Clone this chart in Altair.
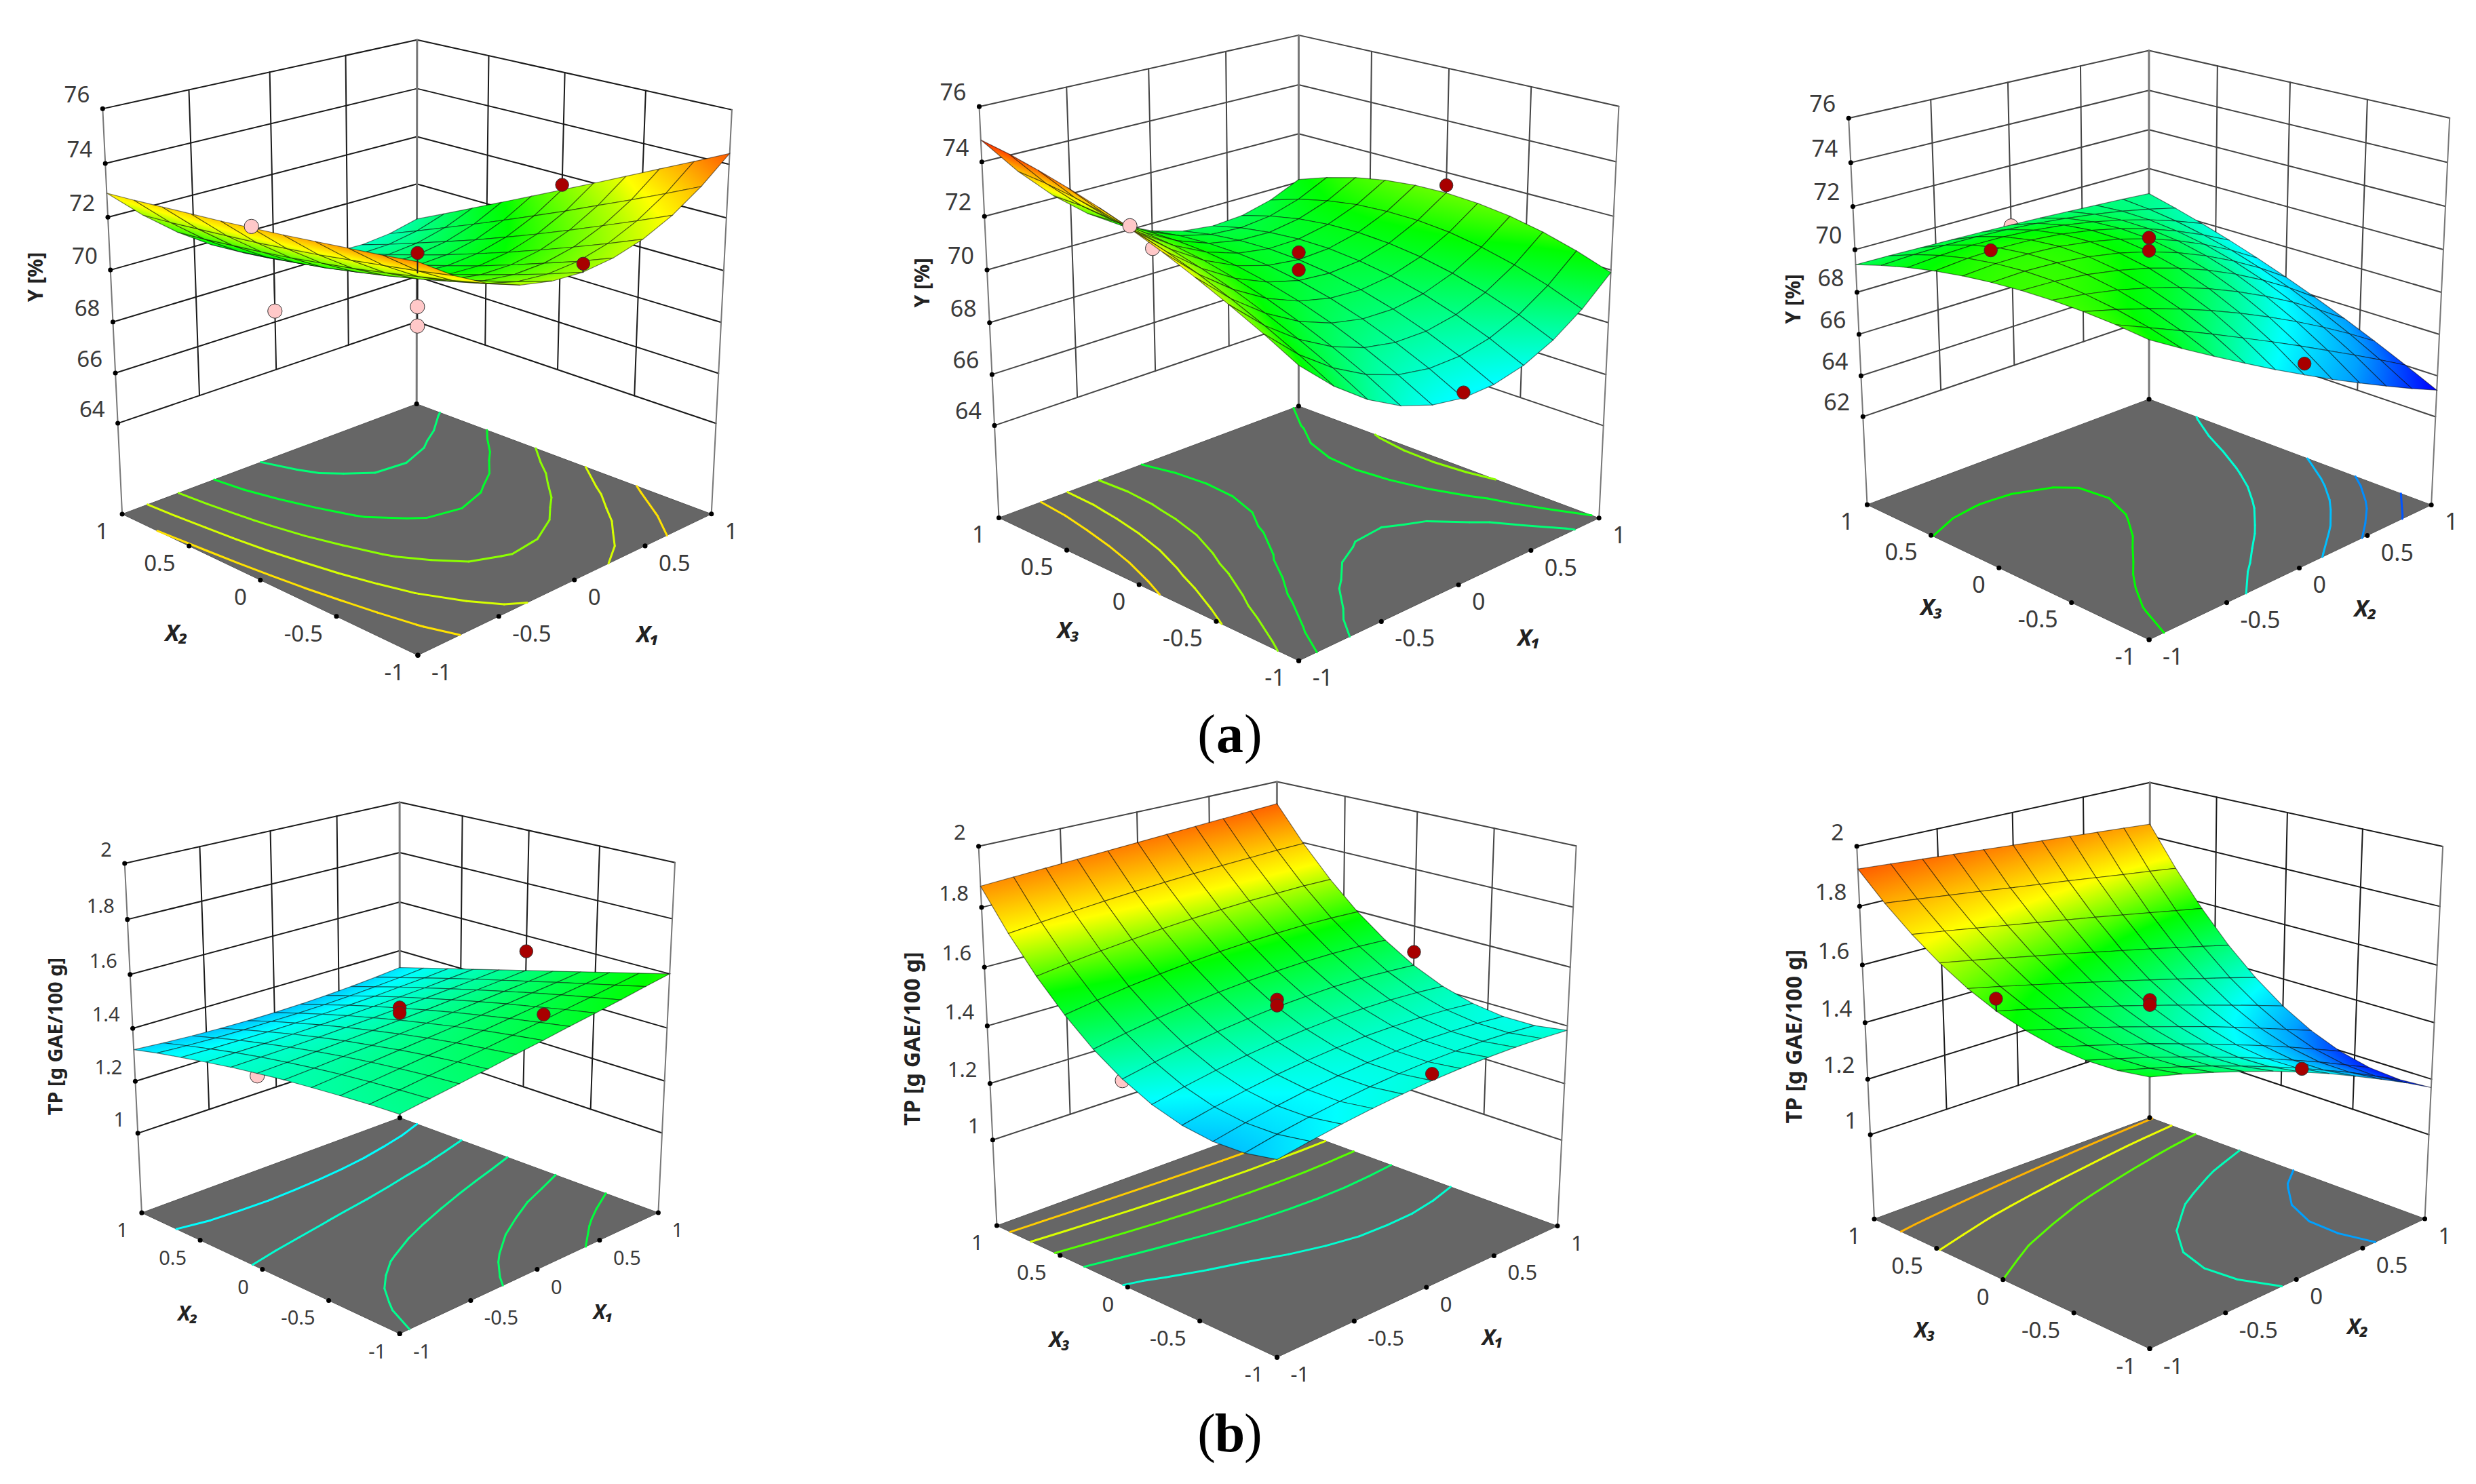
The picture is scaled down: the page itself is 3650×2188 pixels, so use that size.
import numpy as np
import altair as alt

alt.data_transformers.disable_max_rows()

# ---------- values: response z at X (columns, -1..1 by .2), Y (rows, -1..1 by .2) ----------
Y_X1_X2 = [
[74.0,73.18,72.54,72.10,71.86,71.8,71.94,72.26,72.78,73.50,74.4],
[73.85,72.96,72.26,71.77,71.46,71.36,71.45,71.74,72.23,72.91,73.79],
[73.72,72.77,72.02,71.47,71.11,70.96,71.01,71.25,71.70,72.34,73.19],
[73.59,72.59,71.78,71.18,70.78,70.58,70.58,70.78,71.18,71.79,72.59],
[73.46,72.41,71.56,70.92,70.47,70.22,70.17,70.33,70.68,71.23,71.99],
[73.35,72.26,71.38,70.69,70.19,69.9,69.81,69.91,70.20,70.70,71.4],
[73.24,72.12,71.20,70.47,69.94,69.6,69.45,69.50,69.74,70.18,70.81],
[73.15,72.01,71.06,70.30,69.73,69.34,69.14,69.13,69.31,69.67,70.23],
[73.06,71.91,70.94,70.14,69.53,69.1,68.85,68.78,68.89,69.18,69.65],
[72.97,71.81,70.82,70.00,69.36,68.88,68.58,68.44,68.48,68.69,69.07],
[72.9,71.74,70.74,69.90,69.22,68.7,68.34,68.14,68.10,68.22,68.5]]
Y_X1_X3 = [
[70.6,69.47,68.57,67.91,67.49,67.3,67.35,67.63,68.15,68.91,69.9],
[71.24,70.12,69.24,68.58,68.14,67.94,67.97,68.22,68.70,69.41,70.35],
[71.82,70.71,69.82,69.15,68.70,68.48,68.48,68.70,69.15,69.82,70.71],
[72.36,71.24,70.34,69.65,69.19,68.94,68.91,69.10,69.50,70.13,70.97],
[72.86,71.72,70.80,70.09,69.60,69.32,69.25,69.40,69.76,70.35,71.13],
[73.3,72.14,71.18,70.44,69.92,69.6,69.50,69.60,69.92,70.46,71.2],
[73.70,72.50,71.51,70.73,70.16,69.8,69.65,69.72,69.99,70.47,71.17],
[74.04,72.79,71.75,70.92,70.31,69.9,69.71,69.73,69.96,70.40,71.05],
[74.34,73.03,71.93,71.05,70.38,69.92,69.68,69.64,69.83,70.22,70.83],
[74.60,73.22,72.06,71.11,70.38,69.86,69.56,69.47,69.60,69.95,70.51],
[74.8,73.34,72.10,71.08,70.28,69.7,69.34,69.20,69.28,69.58,70.1]]
Y_X2_X3 = [
[70.6,69.74,68.92,68.12,67.34,66.6,65.88,65.20,64.54,63.90,63.3],
[70.74,70.14,69.53,68.90,68.25,67.59,66.91,66.21,65.50,64.77,64.02],
[70.82,70.44,70.01,69.53,69.00,68.41,67.77,67.08,66.34,65.55,64.70],
[70.84,70.64,70.37,70.01,69.58,69.07,68.48,67.81,67.07,66.24,65.34],
[70.80,70.75,70.60,70.35,70.01,69.57,69.04,68.41,67.68,66.86,65.94],
[70.7,70.75,70.69,70.53,70.27,69.9,69.43,68.85,68.17,67.39,66.5],
[70.54,70.65,70.66,70.57,70.37,70.07,69.67,69.16,68.55,67.84,67.02],
[70.32,70.46,70.50,70.45,70.31,70.07,69.74,69.32,68.80,68.19,67.50],
[70.04,70.16,70.21,70.18,70.08,69.91,69.66,69.34,68.95,68.48,67.94],
[69.70,69.77,69.79,69.77,69.70,69.59,69.43,69.23,68.98,68.68,68.34],
[69.3,69.28,69.24,69.20,69.16,69.1,69.04,68.96,68.88,68.80,68.7]]
TP_X1_X2 = [
[1.445,1.460,1.474,1.489,1.505,1.52,1.536,1.551,1.567,1.584,1.60],
[1.441,1.453,1.466,1.479,1.492,1.505,1.518,1.532,1.545,1.559,1.573],
[1.434,1.445,1.456,1.467,1.478,1.489,1.500,1.511,1.523,1.534,1.546],
[1.426,1.435,1.444,1.453,1.462,1.471,1.480,1.490,1.500,1.509,1.519],
[1.417,1.423,1.430,1.436,1.444,1.451,1.459,1.467,1.475,1.483,1.492],
[1.405,1.409,1.414,1.419,1.424,1.43,1.436,1.443,1.450,1.457,1.465],
[1.392,1.394,1.396,1.399,1.403,1.407,1.412,1.418,1.424,1.431,1.438],
[1.376,1.376,1.376,1.378,1.380,1.383,1.387,1.392,1.397,1.404,1.411],
[1.359,1.356,1.355,1.354,1.355,1.357,1.360,1.364,1.370,1.376,1.384],
[1.341,1.335,1.331,1.329,1.329,1.329,1.331,1.335,1.341,1.348,1.357],
[1.32,1.312,1.306,1.302,1.300,1.30,1.302,1.306,1.312,1.320,1.33]]
TP_X1_X3 = [
[1.32,1.338,1.354,1.367,1.377,1.385,1.390,1.393,1.393,1.390,1.385],
[1.301,1.322,1.339,1.353,1.365,1.373,1.378,1.380,1.380,1.376,1.369],
[1.299,1.321,1.339,1.355,1.366,1.375,1.380,1.383,1.381,1.377,1.369],
[1.313,1.335,1.354,1.370,1.382,1.391,1.397,1.398,1.397,1.392,1.384],
[1.343,1.365,1.384,1.400,1.412,1.421,1.427,1.428,1.427,1.422,1.414],
[1.39,1.411,1.430,1.445,1.456,1.465,1.470,1.473,1.472,1.467,1.46],
[1.453,1.473,1.490,1.504,1.515,1.523,1.528,1.531,1.531,1.528,1.522],
[1.533,1.550,1.565,1.577,1.587,1.595,1.600,1.603,1.604,1.602,1.598],
[1.629,1.643,1.655,1.665,1.674,1.681,1.686,1.690,1.691,1.692,1.690],
[1.741,1.751,1.760,1.768,1.775,1.781,1.786,1.790,1.793,1.796,1.797],
[1.87,1.875,1.88,1.885,1.89,1.895,1.90,1.905,1.91,1.915,1.92]]
TP_X2_X3 = [
[1.56,1.534,1.504,1.472,1.438,1.40,1.360,1.316,1.270,1.222,1.17],
[1.545,1.517,1.487,1.455,1.420,1.383,1.344,1.302,1.259,1.211,1.163],
[1.542,1.513,1.483,1.450,1.416,1.38,1.342,1.302,1.261,1.217,1.172],
[1.55,1.521,1.491,1.460,1.426,1.392,1.356,1.319,1.280,1.239,1.198],
[1.57,1.542,1.513,1.483,1.451,1.419,1.386,1.351,1.315,1.278,1.241],
[1.6,1.574,1.546,1.518,1.490,1.46,1.430,1.398,1.366,1.334,1.30],
[1.642,1.618,1.593,1.567,1.541,1.515,1.488,1.461,1.433,1.405,1.376],
[1.696,1.675,1.653,1.631,1.609,1.586,1.563,1.540,1.516,1.492,1.468],
[1.761,1.744,1.726,1.708,1.690,1.672,1.654,1.635,1.616,1.597,1.578],
[1.837,1.824,1.811,1.798,1.784,1.771,1.758,1.744,1.730,1.717,1.703],
[1.925,1.917,1.909,1.901,1.893,1.885,1.877,1.869,1.861,1.853,1.845]]

# design points: factor on right axis, factor on left axis, response, kind
R, P = "#a80000", "#ffc8c8"
PTS_1 = [(-1,0,73.4,P),(0,1,66.45,P),(0,-1,72.1,R),(1,0,71.6,R),(0,0,70.66,R),(0,0,68.6,P),(0,0,67.85,P)]
PTS_2 = [(-1,0,73.4,P),(0,1,69.0,P),(0,0,70.66,R),(0,0,70.0,R),(1,0,71.5,R),(0,-1,67.5,R)]
PTS_3 = [(-1,0,72.1,R),(0,1,69.05,P),(0,0,70.56,R),(0,0,69.95,R),(0,-1,67.1,R)]
PTS_4 = [(-1,0,1.396,P),(1,0,1.54,R),(0,-1,1.61,R),(0,0,1.477,R),(0,0,1.457,R)]
PTS_5 = [(-1,0,1.385,P),(1,0,1.508,R),(0,-1,1.407,R),(0,0,1.49,R),(0,0,1.47,R)]
PTS_6 = [(-1,0,1.64,R),(0,0,1.479,R),(0,0,1.462,R),(0,-1,1.411,R)]

Y_TICKS = [64, 66, 68, 70, 72, 74, 76]
Y_TICKS_3 = [62, 64, 66, 68, 70, 72, 74, 76]
TP_TICKS = [1, 1.2, 1.4, 1.6, 1.8, 2]
FACTOR_TICKS = [-1, -0.5, 0, 0.5, 1]

Y_STOPS = [63.3, 65.4, 67.4, 68.8, 70.2, 72.7, 74, 75.3]
TP_STOPS = [1.15, 1.27, 1.35, 1.46, 1.58, 1.74, 1.89, 2.02]
RAMP = ["#0000ff", "#00a0ff", "#00ffff", "#00ff80", "#00ff00", "#ffff00", "#ff8000", "#ff0000"]
GRID = np.linspace(-1, 1, 11)

# ---------- layout: camera anchors read in crop coordinates ----------
PANELS = [
 dict(t=Y_X1_X2, pts=PTS_1, ticks=Y_TICKS, stops=Y_STOPS, zf=60.3, zt=76, lev=[69,70,71,72,73], stem=True,
      view=(0,0,1568/1200,1568/1080), wall="#1a1a1a", fs=33, tfs=30, xfs=34, title="Y [%]", tpos=(70,593),
      lf=("X₂",(340,1358)), rg=("X₁",(1248,1360)),
      a=dict(F=(805,1403),Rt=(1370,1100),L=(235,1100),B=(803,865),LT=(198,233),BT=(803,85),RT=(1410,235))),
 dict(t=Y_X1_X3, pts=PTS_2, ticks=Y_TICKS, stops=Y_STOPS, zf=60.3, zt=76, lev=[69,70,71,72,73], stem=False,
      view=(1250,0,1568/1200,1568/1080), wall="#444444", fs=34, tfs=30, xfs=34, title="Y [%]", tpos=(145,605),
      lf=("X₃",(425,1352)), rg=("X₁",(1312,1368)),
      a=dict(F=(868,1415),Rt=(1447,1108),L=(291,1108),B=(868,870),LT=(253,228),BT=(868,75),RT=(1485,228))),
 dict(t=Y_X2_X3, pts=PTS_3, ticks=Y_TICKS_3, stops=Y_STOPS, zf=57.6, zt=76, lev=[64,65,66,68,70.2], stem=False,
      view=(2600,0,1568/1050,1568/1080), wall="#444444", fs=34, tfs=30, xfs=34, title="Y [%]", tpos=(67,640),
      lf=("X₃",(370,1303)), rg=("X₂",(1325,1305)),
      a=dict(F=(848,1370),Rt=(1470,1080),L=(228,1080),B=(848,855),LT=(187,253),BT=(848,108),RT=(1510,253))),
 dict(t=TP_X1_X2, pts=PTS_4, ticks=TP_TICKS, stops=TP_STOPS, zf=0.686, zt=2, lev=[1.35,1.4,1.45,1.5,1.55], stem=False,
      view=(0,1130,1568/1200,1568/1058), wall="#1a1a1a", fs=29, tfs=29, xfs=30, title="TP [g GAE/100 g]", tpos=(108,590),
      lf=("X₂",(362,1198)), rg=("X₁",(1162,1195)),
      a=dict(F=(770,1240),Rt=(1268,975),L=(273,975),B=(770,768),LT=(240,212),BT=(770,78),RT=(1300,210))),
 dict(t=TP_X1_X3, pts=PTS_5, ticks=TP_TICKS, stops=TP_STOPS, zf=0.689, zt=2, lev=[1.4,1.5,1.6,1.7,1.8], stem=False,
      view=(1250,1100,1568/1200,1568/1088), wall="#444444", fs=31, tfs=32, xfs=32, title="TP [g GAE/100 g]", tpos=(125,622),
      lf=("X₃",(408,1262)), rg=("X₁",(1242,1258)),
      a=dict(F=(826,1300),Rt=(1367,1018),L=(287,1018),B=(826,803),LT=(252,213),BT=(826,75),RT=(1403,213))),
 dict(t=TP_X2_X3, pts=PTS_6, ticks=TP_TICKS, stops=TP_STOPS, zf=0.689, zt=2, lev=[1.27,1.42,1.6,1.72,1.83], stem=True,
      view=(2600,1130,1568/1050,1568/1058), wall="#1a1a1a", fs=33, tfs=32, xfs=32, title="TP [g GAE/100 g]", tpos=(68,590),
      lf=("X₃",(355,1233)), rg=("X₂",(1308,1225)),
      a=dict(F=(850,1273),Rt=(1455,988),L=(243,988),B=(850,768),LT=(205,175),BT=(850,35),RT=(1495,175))),
]

RGB = [tuple(int(h[i:i+2], 16) for i in (1, 3, 5)) for h in RAMP]
def ramp_hex(c):
    c = min(max(c, 0.0), len(RAMP) - 1.0)
    i = min(int(c), len(RAMP) - 2)
    f = c - i
    return "#%02x%02x%02x" % tuple(int(round(RGB[i][k] + f*(RGB[i+1][k]-RGB[i][k]))) for k in range(3))

def cell_fill(xy, cs):
    """Shade one mesh cell from its own four corners with a linear gradient in its bounding box."""
    xy, cs = np.array(xy, float), np.array(cs, float)
    lo, hi = xy.min(axis=0), xy.max(axis=0)
    span = np.maximum(hi - lo, 1e-6)
    n = (xy - lo) / span
    A = np.c_[n, np.ones(4)]
    gu, gv, _ = np.linalg.lstsq(A, cs, rcond=None)[0]
    g = float(np.hypot(gu, gv))
    cc, cmin, cmax = cs.mean(), cs.min(), cs.max()
    if g < 1e-4 or cmax - cmin < 1e-4:
        return ramp_hex(cc)
    d = np.array([gu, gv]) / g
    m = n.mean(axis=0)
    p0, p1 = m + d*(cmin-cc)/g, m + d*(cmax-cc)/g
    stops = [dict(offset=0, color=ramp_hex(cmin))]
    for s in range(int(np.ceil(cmin)), int(np.floor(cmax))+1):
        if cmin < s < cmax:
            stops.append(dict(offset=float((s-cmin)/(cmax-cmin)), color=ramp_hex(s)))
    stops.append(dict(offset=1, color=ramp_hex(cmax)))
    x2 = float(p1[0]) or 0.0001
    return dict(gradient="linear", x1=float(p0[0]), y1=float(p0[1]), x2=x2, y2=float(p1[1]), stops=stops)

def camera(p):
    ox, oy, fx, fy = p["view"]
    world = dict(F=(-1,-1,0),Rt=(1,-1,0),L=(-1,1,0),B=(1,1,0),LT=(-1,1,1),BT=(1,1,1),RT=(1,-1,1))
    A, b = [], []
    for k, (zx, zy) in p["a"].items():
        u, v = ox + zx/fx, oy + zy/fy
        X, Y, T = world[k]
        A.append([X,Y,T,1,0,0,0,0,-u*X,-u*Y,-u*T]); b.append(u)
        A.append([0,0,0,0,X,Y,T,1,-v*X,-v*Y,-v*T]); b.append(v)
    s = np.linalg.lstsq(np.array(A,float), np.array(b,float), rcond=None)[0]
    return np.append(s, 1.0).reshape(3,4)

rules, contours, geo_cells, floors, dots, pts_back, pts_front, stems_back, stems_front = [], [], [], [], [], [], [], [], []
txt_r, txt_l, txt_c, txt_rot = [], [], [], []

for p in PANELS:
    C = camera(p)
    zf, zt = p["zf"], p["zt"]
    ox, oy, fx, fy = p["view"]
    def proj(X, Y, z):
        h = C @ np.array([X, Y, (z-zf)/(zt-zf), 1.0])
        return float(h[0]/h[2]), float(h[1]/h[2])
    def seg(a, b, col, sw):
        (x, y), (x2, y2) = proj(*a), proj(*b)
        rules.append(dict(x=x, y=y, x2=x2, y2=y2, col=col, sw=sw))
    colr = lambda z: float(np.interp(z, p["stops"], range(len(RAMP))))
    T = np.array(p["t"], float)
    w = p["wall"]
    lo = p["ticks"][0]
    # floor
    floors.append(dict(type="Feature", properties={}, geometry=dict(type="Polygon", coordinates=[[
        [proj(a,b,zf)[0]-8, proj(a,b,zf)[1]-8] for a,b in [(-1,-1),(1,-1),(1,1),(-1,1),(-1,-1)]]])))
    for lev0 in p["lev"]:
        lev = lev0 + 1.3e-5
        for j in range(10):
            for i in range(10):
                v = [(GRID[i],GRID[j],T[j,i]),(GRID[i+1],GRID[j],T[j,i+1]),(GRID[i+1],GRID[j+1],T[j+1,i+1]),(GRID[i],GRID[j+1],T[j+1,i])]
                cross = []
                for k in range(4):
                    a, b = v[k], v[(k+1)%4]
                    if (a[2]-lev)*(b[2]-lev) < 0:
                        f = (lev-a[2])/(b[2]-a[2])
                        cross.append((a[0]+f*(b[0]-a[0]), a[1]+f*(b[1]-a[1])))
                for k in range(0, len(cross)-1, 2):
                    (x,y),(x2,y2) = proj(*cross[k],zf), proj(*cross[k+1],zf)
                    contours.append(dict(x=x,y=y,x2=x2,y2=y2,c=colr(lev0)))
    # walls
    for z in p["ticks"]:
        seg((-1,1,z),(1,1,z),w,2); seg((1,1,z),(1,-1,z),w,2)
        dots.append(dict(zip("xy",proj(-1,1,z))))
        x,y = proj(-1,1,z)
        txt_r.append(dict(x=x-19,y=y-19,text=f"{z:g}",fs=p["fs"]))
    for t in (-0.5,0,0.5):
        seg((t,1,lo),(t,1,zt),w,2); seg((1,t,lo),(1,t,zt),w,2)
    seg((-1,1,zf),(-1,1,zt),"#777777",2); seg((1,-1,zf),(1,-1,zt),"#777777",2); seg((1,1,zf),(1,1,zt),"#777777",3)
    # floor ticks
    for t in FACTOR_TICKS:
        x,y = proj(-1,t,zf); dots.append(dict(x=x,y=y)); txt_r.append(dict(x=x-20,y=y+27,text=f"{t:g}",fs=p["fs"]))
        x,y = proj(t,-1,zf); dots.append(dict(x=x,y=y)); txt_l.append(dict(x=x+20,y=y+27,text=f"{t:g}",fs=p["fs"]))
    x,y = proj(1,1,zf); dots.append(dict(x=x,y=y))
    # surface cells, far to near
    cells = sorted(((i,j) for i in range(10) for j in range(10)), key=lambda c: -(c[0]+c[1]))
    for i,j in cells:
        ring = [(i,j),(i+1,j),(i+1,j+1),(i,j+1),(i,j)]
        coords = [[proj(GRID[a],GRID[b],T[b,a])[0]-8, proj(GRID[a],GRID[b],T[b,a])[1]-8] for a,b in ring]
        cs = [colr(T[b,a]) for a,b in ring[:4]]
        geo_cells.append(dict(type="Feature", properties=dict(g=cell_fill(coords[:4], cs)),
                              geometry=dict(type="Polygon", coordinates=[coords])))
    # design points and their stems to the surface
    for X,Y,z,col in p["pts"]:
        i,j = int(round((X+1)*5)), int(round((Y+1)*5))
        sz = T[j,i]
        x,y = proj(X,Y,z); x2,y2 = proj(X,Y,sz)
        row = dict(x=x,y=y,col=col,size=450 if col==P else 380)
        (pts_front if z>=sz else pts_back).append(row)
        if p["stem"] or z<sz:
            stem = dict(x=x,y=y,x2=x2,y2=y2,col="#222222",sw=2)
            (stems_front if z>=sz else stems_back).append(stem)
    # titles
    for lab,(zx,zy) in (p["lf"],p["rg"]):
        txt_c.append(dict(x=ox+zx/fx,y=oy+zy/fy,text=lab,fs=p["xfs"]))
    txt_rot.append(dict(x=ox+p["tpos"][0]/fx,y=oy+p["tpos"][1]/fy,text=p["title"],fs=p["tfs"]))

PAREN = [dict(x=1792,y=1109,text="("),dict(x=1792,y=2140,text="(")]
PAREN_R = [dict(x=1834,y=1109,text=")"),dict(x=1834,y=2140,text=")")]
LETTER = [dict(x=1813,y=1109,text="a"),dict(x=1813,y=2140,text="b")]

# ---------- chart ----------
W, H = 3634, 2172
xs = alt.X("x:Q", scale=alt.Scale(domain=[8, 8+W], nice=False, zero=False), axis=None)
ys = alt.Y("y:Q", scale=alt.Scale(domain=[8+H, 8], nice=False, zero=False), axis=None)
cscale = alt.Scale(domain=list(range(len(RAMP))), range=RAMP)

def ruleset(rows):
    return alt.Chart(alt.Data(values=rows)).mark_rule(strokeCap="round").encode(
        x=xs, y=ys, x2="x2:Q", y2="y2:Q",
        color=alt.Color("col:N", scale=None), strokeWidth=alt.StrokeWidth("sw:Q", scale=None))

def points(rows):
    return alt.Chart(alt.Data(values=rows)).mark_point(filled=True, shape="circle", opacity=1, stroke="#333333", strokeWidth=1).encode(
        x=xs, y=ys, fill=alt.Fill("col:N", scale=None), size=alt.Size("size:Q", scale=None))

def texts(rows, **kw):
    return alt.Chart(alt.Data(values=rows)).mark_text(**kw).encode(
        x=xs, y=ys, text="text:N", size=alt.Size("fs:Q", scale=None))

PROJ = dict(type="identity", scale=1, translate=[0, 0])
floor_layer = alt.Chart(alt.Data(values=floors)).mark_geoshape(fill="#666666", stroke="#555555", strokeWidth=1).project(**PROJ)
surface_layer = alt.Chart(alt.Data(values=geo_cells)).mark_geoshape(stroke="#000000", strokeWidth=1.2, strokeOpacity=0.5).encode(
    fill=alt.Fill("properties.g:N", scale=None)).project(**PROJ)
contour_layer = alt.Chart(alt.Data(values=contours)).mark_rule(strokeCap="round", strokeWidth=3).encode(
    x=xs, y=ys, x2="x2:Q", y2="y2:Q", color=alt.Color("c:Q", scale=cscale, legend=None))
dot_layer = alt.Chart(alt.Data(values=dots)).mark_point(filled=True, shape="circle", size=50, color="#000000", opacity=1).encode(x=xs, y=ys)

serif = dict(font="Liberation Serif", fontSize=80, baseline="alphabetic", color="#000000")
chart = alt.layer(
    floor_layer,
    contour_layer,
    ruleset(rules),
    dot_layer,
    ruleset(stems_back),
    points(pts_back),
    surface_layer,
    ruleset(stems_front),
    points(pts_front),
    texts(txt_r, align="right", baseline="middle", font="Noto Sans", color="#3a3a3a"),
    texts(txt_l, align="left", baseline="middle", font="Noto Sans", color="#3a3a3a"),
    texts(txt_c, align="center", baseline="middle", font="Noto Sans", fontWeight="bold", fontStyle="italic", color="#222222"),
    texts(txt_rot, align="center", baseline="middle", angle=270, font="Noto Sans", fontWeight="bold", color="#222222"),
    alt.Chart(alt.Data(values=PAREN)).mark_text(align="right", **serif).encode(x=xs, y=ys, text="text:N"),
    alt.Chart(alt.Data(values=PAREN_R)).mark_text(align="left", **serif).encode(x=xs, y=ys, text="text:N"),
    alt.Chart(alt.Data(values=LETTER)).mark_text(align="center", fontWeight="bold", **serif).encode(x=xs, y=ys, text="text:N"),
).properties(width=W, height=H, padding=0, autosize=alt.AutoSizeParams(type="none"), background="#ffffff"
).configure_view(stroke=None)

chart.save("out.html", embed_options={"renderer": "svg", "actions": False})
